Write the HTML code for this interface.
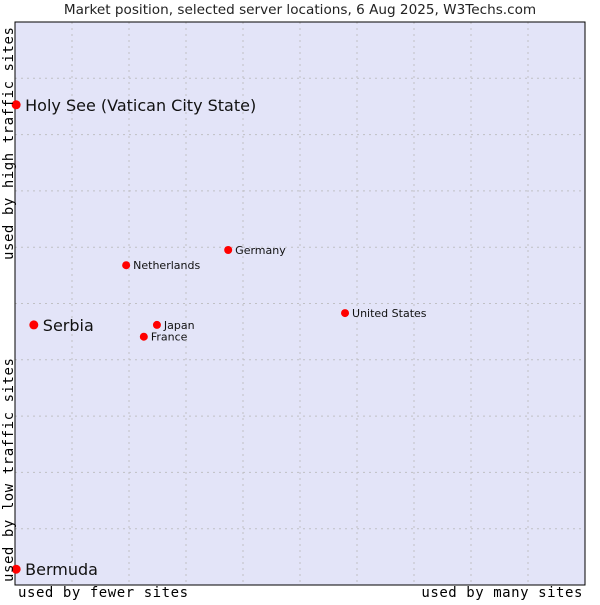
<!DOCTYPE html>
<html><head><meta charset="utf-8"><style>
body{margin:0;background:#fff;}
svg text{font-family:"DejaVu Sans","Liberation Sans",sans-serif;}
.mono{font-family:"DejaVu Sans Mono","Liberation Mono",monospace !important;letter-spacing:0.55px;}
</style></head><body>
<svg id="chart" width="600" height="600" xmlns="http://www.w3.org/2000/svg">
<text x="300" y="14" text-anchor="middle" font-size="13.6" fill="#222">Market position, selected server locations, 6 Aug 2025, W3Techs.com</text>
<rect x="15" y="22" width="570" height="563" fill="#e3e4f8"/>
<g id="grid"></g>
<rect x="15" y="22" width="570" height="563" fill="none" stroke="#000" stroke-width="1"/>
<g id="points"></g>
<text class="mono" x="18" y="597" font-size="14" fill="#000">used by fewer sites</text>
<text class="mono" x="583" y="597" font-size="14" fill="#000" text-anchor="end">used by many sites</text>
<text class="mono" transform="translate(13,582) rotate(-90)" font-size="14" fill="#000">used by low traffic sites</text>
<text class="mono" transform="translate(13,260) rotate(-90)" font-size="14" fill="#000">used by high traffic sites</text>
</svg>
<script>
const names = ["Holy See (Vatican City State)","Serbia","Bermuda","Netherlands","Germany","United States","Japan","France"];
const xs = [0.2,3.3,0.2,19.5,37.4,57.9,24.9,22.6];
const ys = [85.3,46.2,2.8,56.8,59.5,48.3,46.2,44.1];
const big = [true,true,true,false,false,false,false,false];
const L=15,T=22,W=570,H=563;
const sx=v=>L+v/100*W, sy=v=>T+H-v/100*H;
const ns="http://www.w3.org/2000/svg";
const grid=document.getElementById('grid');
for(let i=1;i<10;i++){
  const v=document.createElementNS(ns,'line');
  v.setAttribute('x1',sx(i*10));v.setAttribute('x2',sx(i*10));v.setAttribute('y1',T);v.setAttribute('y2',T+H);
  v.setAttribute('stroke','#c0c0c4');v.setAttribute('stroke-dasharray','2,4');
  
  
  grid.appendChild(v);
  const h=document.createElementNS(ns,'line');
  h.setAttribute('y1',sy(i*10));h.setAttribute('y2',sy(i*10));h.setAttribute('x1',L);h.setAttribute('x2',L+W);
  h.setAttribute('stroke','#c0c0c4');h.setAttribute('stroke-dasharray','2,4');
  
  
  grid.appendChild(h);
}
const pts=document.getElementById('points');
names.forEach((n,i)=>{
  const x=sx(xs[i]),y=sy(ys[i]);
  const d=document.createElementNS(ns,'circle');
  d.setAttribute('cx',x);d.setAttribute('cy',y);d.setAttribute('r',big[i]?4.5:4);
  d.setAttribute('fill','#f00');
  
  
  pts.appendChild(d);
  const t=document.createElementNS(ns,'text');
  t.setAttribute('x',x+(big[i]?9:7));t.setAttribute('y',y+(big[i]?6:4));
  t.setAttribute('font-size',big[i]?16:11);t.setAttribute('fill','#111');
  t.textContent=n;
  
  
  pts.appendChild(t);
});
</script>
</body></html>
